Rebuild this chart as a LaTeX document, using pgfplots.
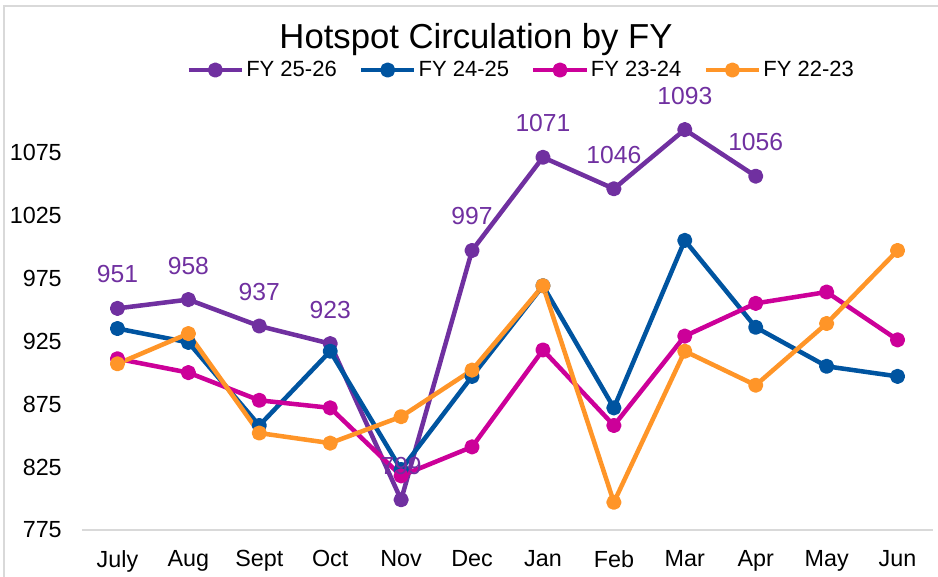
\documentclass[border=0pt]{standalone}
\usepackage{pgfplots}
\pgfplotsset{compat=1.18}
\usepackage{fontspec}
\setmainfont{Liberation Sans}
\definecolor{c1}{HTML}{7030A0}
\definecolor{c2}{HTML}{0054A0}
\definecolor{c3}{HTML}{CC0099}
\definecolor{c4}{HTML}{FF9528}
\definecolor{framec}{HTML}{D9D9D9}
\begin{document}
\begin{tikzpicture}
\useasboundingbox (0,0) rectangle (703.5pt,432.75pt);
\draw[framec, line width=1.2pt] (3pt,-10pt) rectangle (720pt,428.25pt);
\node[anchor=base, font=\fontsize{26}{30}\selectfont] at (357pt,396pt) {Hotspot Circulation by FY};
\begin{axis}[
  at={(61.5pt,35.25pt)}, anchor=south west,
  scale only axis, width=638.25pt, height=306.9pt,
  xmin=-0.5, xmax=11.5, ymin=775, ymax=1100,
  clip=false,
  xtick={0,...,11},
  xticklabels={July,Aug,Sept,Oct,Nov,Dec,Jan,Feb,Mar,Apr,May,Jun},
  ytick={775,825,875,925,975,1025,1075},
  axis x line*=bottom, axis y line*=left,
  y axis line style={draw=none},
  x axis line style={draw=framec, line width=1pt, -},
  major tick length=0pt,
  tick style={draw=none},
  /pgf/number format/assume math mode=true,
  /pgf/number format/1000 sep={},
  tick label style={font=\fontsize{17.5}{20}\selectfont, inner sep=0pt},
  yticklabel style={xshift=-15pt},
  xticklabel style={yshift=-15pt},
  every axis plot/.append style={line width=3.4pt, line join=round, mark=*, mark size=4pt},
  legend style={draw=none, fill=none, at={(0.516,1.124)}, anchor=center,
    font=\fontsize{16.5}{18}\selectfont, legend columns=4,
    /tikz/every even column/.append style={column sep=15pt},
    nodes={inner sep=1.5pt}},
  legend image code/.code={\draw[mark repeat=2,mark phase=2,#1] plot coordinates {(0pt,0pt) (20pt,0pt) (40pt,0pt)};},
]
\addplot[c1, mark options={fill=c1}] coordinates {
(0,951) (1,958) (2,937) (3,923) (4,799) (5,997) (6,1071) (7,1046) (8,1093) (9,1056)};
\addlegendentry{FY 25-26}
\addplot[c2, mark options={fill=c2}] coordinates {
(0,935) (1,924) (2,858) (3,917) (4,823) (5,897) (6,969) (7,872) (8,1005) (9,936) (10,905) (11,897)};
\addlegendentry{FY 24-25}
\addplot[c3, mark options={fill=c3}] coordinates {
(0,911) (1,900) (2,878) (3,872) (4,818) (5,841) (6,918) (7,858) (8,929) (9,955) (10,964) (11,926)};
\addlegendentry{FY 23-24}
\addplot[c4, mark options={fill=c4}] coordinates {
(0,907) (1,931) (2,852) (3,844) (4,865) (5,902) (6,969) (7,797) (8,917) (9,890) (10,939) (11,997)};
\addlegendentry{FY 22-23}
\addplot[draw=none, mark=none, forget plot, nodes near coords,
  nodes near coords style={anchor=center, yshift=25.5pt, text=c1, inner sep=0pt,
    font=\fontsize{18.5}{20}\selectfont, /pgf/number format/assume math mode=true}]
coordinates {
(0,951) (1,958) (2,937) (3,923) (4,799) (5,997) (6,1071) (7,1046) (8,1093) (9,1056)};
\end{axis}
\end{tikzpicture}
\end{document}
